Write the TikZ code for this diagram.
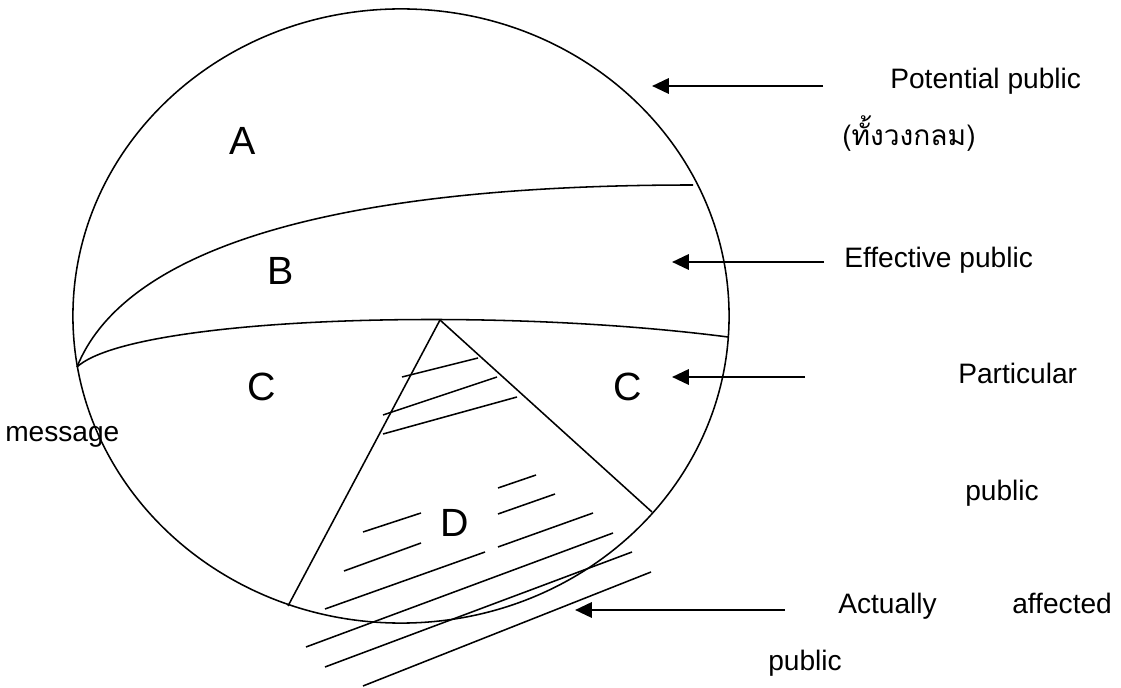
\documentclass[tikz,border=0pt]{standalone}
\usepackage{fontspec}
\setmainfont{Liberation Sans}
\newfontfamily\thaifont[Script=Thai]{Loma}
\usepackage{tikz}
\usetikzlibrary{arrows.meta}

\begin{document}
\begin{tikzpicture}[x=0.025cm, y=-0.025cm,
    edge/.style={line width=1.1pt},
    hatch/.style={line width=1.1pt},
    pointer/.style={-{Triangle[length=0.42cm, width=0.38cm]}, line width=1.8pt},
    label/.style={anchor=base west, inner sep=0pt, font=\fontsize{20}{24}\selectfont},
    region/.style={inner sep=0pt, font=\fontsize{28}{32}\selectfont}
]
\useasboundingbox (0,0) rectangle (1121,688);

% the whole public
\draw[edge] (401,316) ellipse [x radius=8.2cm, y radius=7.675cm];

\coordinate (left)  at (77,367);
\coordinate (apex)  at (440,320);
\coordinate (btop)  at (693,185);
\coordinate (bbot)  at (728,337);
\coordinate (dleft) at (288,606);
\coordinate (dright) at (652,512);

\draw[edge] (left) .. controls (120,260) and (300,185) .. (btop);
\draw[edge] (left) .. controls (130,318) and (480,305) .. (bbot);
\draw[edge] (apex) -- (dleft);
\draw[edge] (apex) -- (dright);

% hatching of D
\draw[hatch] (402,377) -- (478,358);
\draw[hatch] (383,415) -- (497,377);
\draw[hatch] (383,434) -- (517,397);
\draw[hatch] (498,488) -- (536,475);
\draw[hatch] (498,514) -- (555,494);
\draw[hatch] (363,532) -- (421,513);
\draw[hatch] (344,571) -- (421,543);
\draw[hatch] (498,547) -- (593,513);
\draw[hatch] (325,609) -- (485,552);
\draw[hatch] (306,647) -- (613,533);
\draw[hatch] (325,667) -- (632,552);
\draw[hatch] (363,686) -- (651,572);

\node[region] (a)  at (243,141) {A};
\node[region] (b)  at (281,271) {B};
\node[region] (c1) at (262,387) {C};
\node[region] (c2) at (628,387) {C};
\node[region] (d)  at (455,523) {D};

\node[label] (msg) at (5,442) {message};

\node[label] (pot)   at (890,89)  {Potential public};
\node[label] (whole) at (842,146) {\thaifont (ทั้งวงกลม)};
\node[label] (eff)   at (844,268) {Effective public};
\node[label] (part)  at (958,384) {Particular};
\node[label] (part2) at (965,501) {public};
\node[label] (act)   at (838,614) {Actually};
\node[label] (aff)   at (1012,614) {affected};
\node[label] (act2)  at (768,671) {public};

\coordinate (potfrom)  at (823,86);
\coordinate (potto)    at (652,86);
\coordinate (efffrom)  at (824,262);
\coordinate (effto)    at (672,262);
\coordinate (partfrom) at (805,377);
\coordinate (partto)   at (672,377);
\coordinate (actfrom)  at (785,610);
\coordinate (actto)    at (575,610);

\draw[pointer] (potfrom)  -- (potto);
\draw[pointer] (efffrom)  -- (effto);
\draw[pointer] (partfrom) -- (partto);
\draw[pointer] (actfrom)  -- (actto);
\end{tikzpicture}
\end{document}
